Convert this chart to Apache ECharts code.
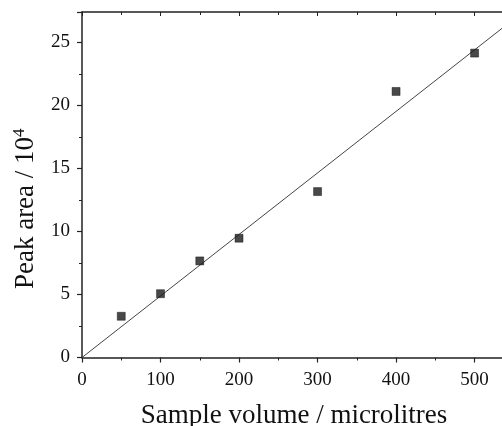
<!DOCTYPE html>
<html><head><meta charset="utf-8">
<script src="https://cdn.jsdelivr.net/npm/echarts@6/dist/echarts.min.js"></script>
<style>html,body{margin:0;padding:0;background:#fff}#c{width:502px;height:426px}</style>
</head><body><div id="c"></div>
<script>
const sampleVolume = [50, 100, 150, 200, 300, 400, 500];
const peakArea = [3.27, 5.06, 7.66, 9.46, 13.16, 21.1, 24.14];
const fitLineX = [0, 540];
const fitLineY = [0, 26.35];
const xTitle = 'Sample volume / microlitres';
const yTitle = 'Peak area / 10';
const yTitleSup = '4';

const font = 'Liberation Serif';
const axisColor = '#222';
const chart = echarts.init(document.getElementById('c'), null, {renderer: 'canvas'});
chart.setOption({
  animation: false,
  grid: {left: 82, top: 12, width: 424, height: 345.5, containLabel: false, outerBoundsMode: 'none'},
  xAxis: [{
    type: 'value', min: 0, max: 540, interval: 100,
    name: xTitle, nameLocation: 'middle', nameGap: 45,
    nameTextStyle: {fontFamily: font, fontSize: 27, color: '#111'},
    axisLine: {show: true, lineStyle: {color: axisColor, width: 1.5}},
    axisTick: {show: true, inside: false, length: 5, lineStyle: {color: axisColor, width: 1.2}},
    minorTick: {show: true, splitNumber: 2, length: 3, lineStyle: {color: axisColor, width: 1}},
    axisLabel: {fontFamily: font, fontSize: 19, color: '#111', margin: 13, showMaxLabel: false},
    splitLine: {show: false}
  }, {
    type: 'value', min: 0, max: 540, interval: 100, position: 'top',
    axisLine: {show: true, lineStyle: {color: axisColor, width: 1.5}},
    axisTick: {show: true, inside: true, length: 4, lineStyle: {color: axisColor, width: 1}},
    minorTick: {show: true, splitNumber: 2, length: 3, lineStyle: {color: axisColor, width: 1}},
    axisLabel: {show: false}, splitLine: {show: false}
  }],
  yAxis: {
    type: 'value', min: 0, max: 27.4, interval: 5,
    name: '{a|' + yTitle + '}{s|' + yTitleSup + '}', nameLocation: 'middle', nameGap: 42, nameRotate: 90,
    nameTextStyle: {
      padding: [0, 48, 0, 0],
      rich: {
        a: {fontFamily: font, fontSize: 27, color: '#111'},
        s: {fontFamily: font, fontSize: 17, color: '#111', verticalAlign: 'top', padding: [0, 0, 12, 0]}
      }
    },
    axisLine: {show: true, lineStyle: {color: axisColor, width: 1.5}},
    axisTick: {show: true, inside: false, length: 5, lineStyle: {color: axisColor, width: 1.2}},
    minorTick: {show: true, splitNumber: 2, length: 3, lineStyle: {color: axisColor, width: 1}},
    axisLabel: {fontFamily: font, fontSize: 19, color: '#111', margin: 12, showMaxLabel: false},
    splitLine: {show: false}
  },
  series: [{
    type: 'line',
    data: fitLineX.map((x, i) => [x, fitLineY[i]]),
    symbol: 'none',
    lineStyle: {color: '#444', width: 1},
    z: 2
  }, {
    type: 'scatter',
    data: sampleVolume.map((x, i) => [x, peakArea[i]]),
    symbol: 'rect', symbolSize: 8,
    itemStyle: {color: '#1a1a1a', borderColor: '#000', borderWidth: 0.5},
    z: 3
  }]
});
</script></body></html>
